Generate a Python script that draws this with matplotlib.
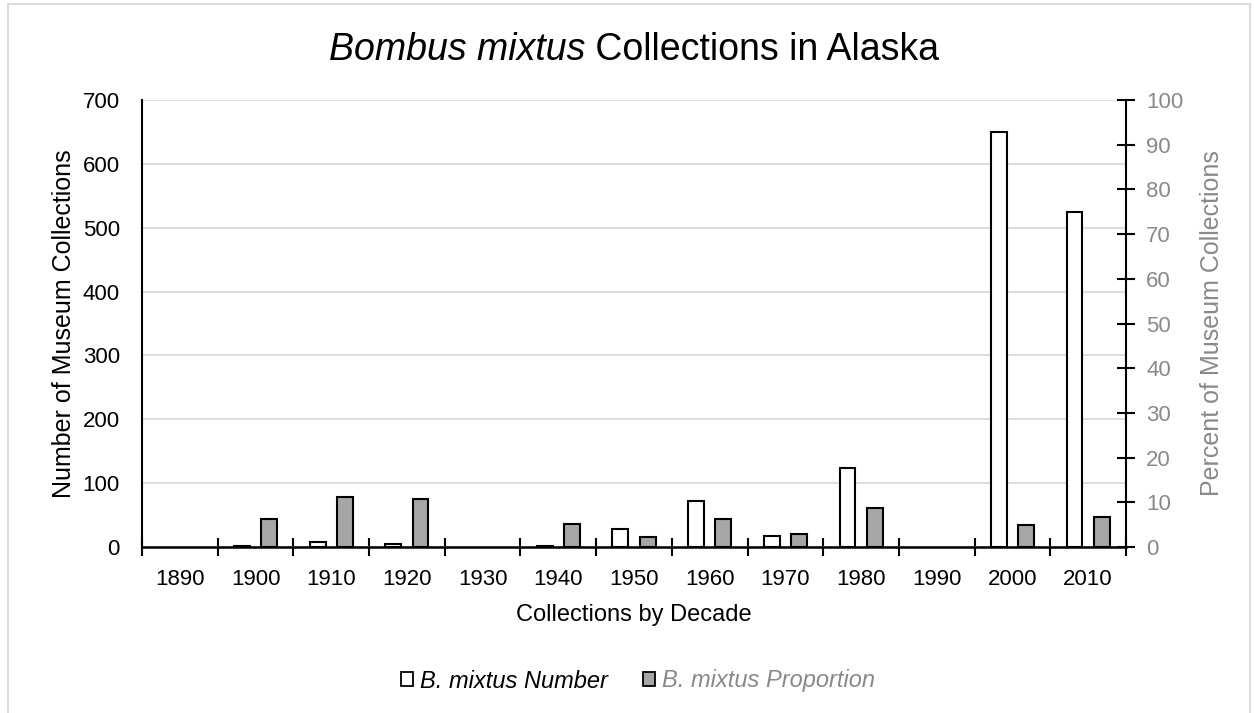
import matplotlib
matplotlib.use("Agg")
import matplotlib.pyplot as plt
import numpy as np
from matplotlib.patches import Patch
from matplotlib.lines import Line2D

plt.rcParams['font.family'] = ['Liberation Sans', 'DejaVu Sans']

decades = ['1890', '1900', '1910', '1920', '1930', '1940', '1950', '1960',
           '1970', '1980', '1990', '2000', '2010']
number = [0, 2, 8, 5, 0, 1, 28, 72, 18, 123, 0, 650, 524]
proportion = [0, 6.3, 11.2, 10.7, 0, 5.1, 2.2, 6.3, 3.0, 8.7, 0, 4.9, 6.6]

GREY_TXT = '#898989'

fig = plt.figure(figsize=(12.54, 7.13), dpi=100)
ax = fig.add_axes([142/1254, 166/713, (1126-142)/1254, (547-100)/713])
ax2 = ax.twinx()

x = np.arange(len(decades))
num = np.array(number, dtype=float)
prop = np.array(proportion, dtype=float)
w = 0.21
m1 = num > 0
m2 = prop > 0
ax.bar(x[m1] - 0.18, num[m1], width=w, color='white', edgecolor='black', linewidth=1.5, zorder=3)
ax2.bar(x[m2] + 0.18, prop[m2], width=w, color='#a6a6a6', edgecolor='black', linewidth=1.5, zorder=3)

ax.set_xlim(-0.5, len(decades) - 0.5)
ax.set_ylim(0, 700)
ax2.set_ylim(0, 100)
ax.set_yticks(np.arange(0, 701, 100))
ax2.set_yticks(np.arange(0, 101, 10))
ax.yaxis.grid(True, color='#d9d9d9', linewidth=1.3, zorder=0)
ax.set_axisbelow(True)

ax.set_xticks(x)
ax.set_xticklabels(decades)
ax.set_xticks(np.arange(-0.5, len(decades), 1.0), minor=True)
ax.tick_params(axis='x', which='major', length=0, labelsize=16, pad=16)
ax.tick_params(axis='x', which='minor', length=13, direction='inout', width=1.5)
ax.tick_params(axis='y', length=0, labelsize=16, pad=16)
ax2.tick_params(axis='y', length=13, direction='inout', width=1.5, labelsize=16,
                labelcolor=GREY_TXT, pad=8)

ax.spines['top'].set_visible(False)
ax2.spines['top'].set_visible(False)
ax.spines['right'].set_visible(False)
ax2.spines['left'].set_visible(False)
ax2.spines['bottom'].set_visible(False)
ax.spines['left'].set_linewidth(1.5)
ax.spines['bottom'].set_linewidth(1.8)
ax2.spines['right'].set_linewidth(1.5)

ax.set_xlabel('Collections by Decade', fontsize=17, labelpad=10)
ax.set_ylabel('Number of Museum Collections', fontsize=18, labelpad=5)
ax2.set_ylabel('Percent of Museum Collections', fontsize=18, color=GREY_TXT, labelpad=12)

# Title with italic part
ty = 1 - 50/713
fig.text(0.5, ty, 'Bombus mixtus', fontsize=27, style='italic', ha='right', va='center')
fig.text(0.5, ty, ' Collections in Alaska', fontsize=27, ha='left', va='center')
fig.canvas.draw()
r = fig.canvas.get_renderer()
texts = fig.texts
bb1 = texts[0].get_window_extent(r)
bb2 = texts[1].get_window_extent(r)
total = bb1.width + bb2.width
shift = (634 - (bb1.x0 + total / 2)) / fig.bbox.width
texts[0].set_x(0.5 + shift)
texts[1].set_x(0.5 + shift)

# Legend
h1 = Patch(facecolor='white', edgecolor='black', linewidth=1.3)
h2 = Patch(facecolor='#a6a6a6', edgecolor='black', linewidth=1.3)
leg = fig.legend([h1, h2], ['B. mixtus Number', 'B. mixtus Proportion'],
                 loc='center', bbox_to_anchor=(638/1254, 1 - 681/713), ncol=2, frameon=False,
                 prop={'size': 17, 'style': 'italic'}, handlelength=0.5, handleheight=0.5,
                 handletextpad=0.3, columnspacing=1.5)
leg.get_texts()[1].set_color(GREY_TXT)

# outer chart border
bc = '#d9d9d9'
fig.add_artist(Line2D([8/1254, 8/1254], [0, 1 - 4/713], transform=fig.transFigure, color=bc, linewidth=1.3))
fig.add_artist(Line2D([8/1254, 1250/1254], [1 - 4/713, 1 - 4/713], transform=fig.transFigure, color=bc, linewidth=1.3))
fig.add_artist(Line2D([1250/1254, 1250/1254], [0, 1 - 4/713], transform=fig.transFigure, color=bc, linewidth=1.3))

fig.savefig('out.png', dpi=100)
